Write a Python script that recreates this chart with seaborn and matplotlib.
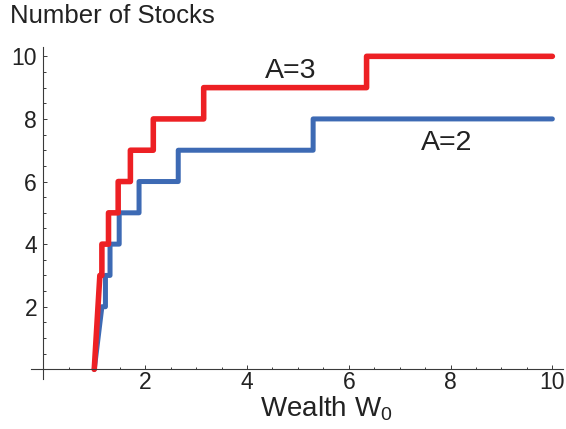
import matplotlib
matplotlib.use('Agg')
import matplotlib.pyplot as plt
import seaborn as sns
from matplotlib.ticker import MultipleLocator

# step data: x where the curve jumps and the level it jumps to
start_x = 1.0
red_jumps = [1.11, 1.15, 1.28, 1.47, 1.71, 2.16, 3.15, 6.35]
red_levels = [3, 4, 5, 6, 7, 8, 9, 10]
blue_jumps = [1.15, 1.22, 1.31, 1.49, 1.88, 2.65, 5.30]
blue_levels = [2, 3, 4, 5, 6, 7, 8]
end_x = 10.0

red = '#ED2024'
blue = '#3D6AB4'
axis_col = '#3a3a3a'

sns.set_style('white')
plt.rcParams['font.family'] = ['Liberation Sans', 'DejaVu Sans']
plt.rcParams['mathtext.fontset'] = 'custom'
plt.rcParams['mathtext.rm'] = 'Liberation Sans'
plt.rcParams['mathtext.it'] = 'Liberation Sans'


def step_path(jumps, levels):
    xs = [start_x, jumps[0]]
    ys = [0, levels[0]]
    for i in range(1, len(jumps)):
        xs += [jumps[i], jumps[i]]
        ys += [levels[i - 1], levels[i]]
    xs.append(end_x)
    ys.append(levels[-1])
    return xs, ys


fig = plt.figure(figsize=(5.66, 4.29), dpi=100)
ax = fig.add_axes([0.0541, 0.1172, 0.9398, 0.7734])

bx, by = step_path(blue_jumps, blue_levels)
rx, ry = step_path(red_jumps, red_levels)
sns.lineplot(x=bx, y=by, sort=False, estimator=None, color=blue, linewidth=3.6,
             solid_capstyle='round', ax=ax)
sns.lineplot(x=rx, y=ry, sort=False, estimator=None, color=red, linewidth=4.0,
             solid_capstyle='round', ax=ax)

ax.set_xlim(-0.25, 10.2)
ax.set_ylim(-0.3, 10.3)

for side in ['top', 'right']:
    ax.spines[side].set_visible(False)
ax.spines['left'].set_position(('data', 0))
ax.spines['bottom'].set_position(('data', 0))
for side in ['left', 'bottom']:
    ax.spines[side].set_color(axis_col)
    ax.spines[side].set_linewidth(0.8)

ax.set_xticks([2, 4, 6, 8, 10])
ax.set_yticks([2, 4, 6, 8, 10])
ax.xaxis.set_minor_locator(MultipleLocator(0.5))
ax.yaxis.set_minor_locator(MultipleLocator(0.5))

ax.tick_params(axis='both', which='both', direction='in', color=axis_col,
               width=0.7, labelcolor='#222222', labelsize=16.5,
               bottom=True, left=True, top=False, right=False)
ax.tick_params(axis='both', which='major', length=3.2)
ax.tick_params(axis='both', which='minor', length=1.8)
ax.tick_params(axis='x', which='major', pad=1.5)
ax.tick_params(axis='y', which='major', pad=4.5)

ax.text(4.85, 9.32, 'A=3', fontsize=20.5, ha='center', va='baseline', color='#222222')
ax.text(7.92, 7.0, 'A=2', fontsize=20.5, ha='center', va='baseline', color='#222222')

fig.text(0.018, 0.9457, 'Number of Stocks', fontsize=18.5, ha='left', va='baseline',
         color='#222222')
fig.text(0.576, 0.028, 'Wealth W$_0$', fontsize=20, ha='center', va='baseline',
         color='#222222')

fig.savefig('out.png', dpi=100)
